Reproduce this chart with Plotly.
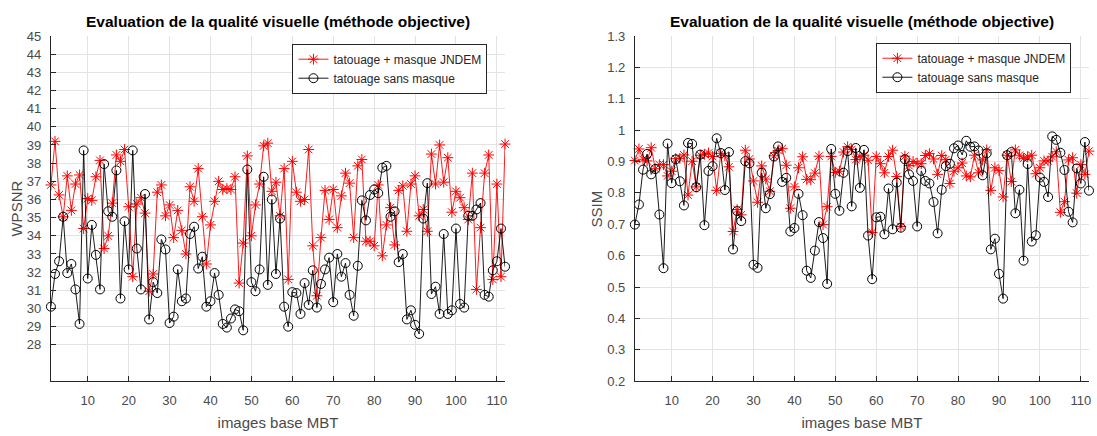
import plotly.graph_objects as go

images = list(range(1, 113))

wpsnr_jndem = [36.8, 39.2, 36.25, 35.05, 37.3, 35.4, 36.85, 37.35, 34.4, 36.05,
               35.95, 37.25, 38.15, 33.3, 34.0, 35.8, 38.45, 38.1, 38.75, 35.6,
               31.75, 35.75, 36.1, 35.25, 30.95, 31.9, 36.4, 36.8, 35.1, 35.7,
               33.9, 35.4, 34.3, 33.0, 36.7, 35.9, 37.7, 35.05, 32.45, 34.6,
               35.9, 37.0, 36.55, 36.6, 36.55, 37.25, 31.4, 33.6, 38.4, 34.0,
               35.7, 36.85, 38.95, 39.1, 36.45, 36.95, 35.1, 37.7, 31.6, 38.1,
               36.4, 35.9, 36.0, 38.75, 33.45, 30.7, 33.9, 36.5, 34.9, 36.55,
               34.45, 36.2, 37.45, 36.9, 33.9, 37.85, 38.2, 33.7, 33.7, 33.45,
               36.8, 32.9, 34.6, 35.55, 33.5, 36.5, 36.75, 34.25, 36.85, 37.3,
               35.1, 35.45, 34.25, 38.5, 36.85, 39.0, 36.95, 38.3, 35.3, 36.45,
               36.1, 35.55, 34.9, 37.45, 31.05, 34.45, 37.45, 38.45, 31.6, 36.85,
               31.75, 39.05]

wpsnr_sans = [30.1, 31.9, 32.6, 35.05, 31.95, 32.45, 31.05, 29.15, 38.7, 31.65,
              34.6, 32.95, 31.05, 37.95, 35.35, 35.05, 37.6, 30.55, 34.8, 32.15,
              38.7, 33.3, 31.05, 36.3, 29.4, 31.45, 30.85, 33.8, 33.25, 29.2,
              29.55, 32.15, 30.4, 30.55, 34.1, 34.5, 32.2, 32.85, 30.1, 30.4,
              31.95, 30.75, 29.15, 28.95, 29.45, 29.95, 29.85, 28.8, 37.65, 31.45,
              30.95, 32.15, 37.25, 31.3, 36.0, 31.9, 34.95, 30.1, 29.0, 30.9,
              30.85, 29.7, 31.4, 30.2, 32.1, 30.05, 31.35, 32.15, 32.8, 30.35,
              33.0, 31.75, 32.5, 30.75, 29.6, 32.35, 35.95, 34.85, 36.25, 36.55,
              36.35, 37.75, 37.85, 35.05, 35.35, 32.55, 33.0, 29.4, 29.9, 29.1,
              28.6, 34.95, 36.9, 30.8, 31.2, 29.7, 34.1, 29.7, 29.9, 34.4,
              30.25, 30.05, 35.1, 35.1, 35.45, 35.8, 30.75, 30.65, 32.1, 32.6,
              34.4, 32.3]

ssim_jndem = [0.903, 0.94, 0.907, 0.902, 0.944, 0.877, 0.89, 0.89, 0.854, 0.869,
              0.909, 0.91, 0.921, 0.793, 0.901, 0.819, 0.92, 0.923, 0.927, 0.916,
              0.808, 0.926, 0.919, 0.883, 0.677, 0.747, 0.73, 0.936, 0.908, 0.838,
              0.77, 0.886, 0.844, 0.805, 0.918, 0.935, 0.941, 0.888, 0.751, 0.819,
              0.88, 0.915, 0.843, 0.842, 0.863, 0.917, 0.699, 0.756, 0.916, 0.865,
              0.869, 0.93, 0.947, 0.938, 0.906, 0.916, 0.92, 0.904, 0.674, 0.916,
              0.893, 0.864, 0.916, 0.936, 0.852, 0.693, 0.917, 0.887, 0.9, 0.894,
              0.893, 0.919, 0.925, 0.908, 0.859, 0.919, 0.906, 0.83, 0.869, 0.88,
              0.895, 0.854, 0.851, 0.92, 0.864, 0.905, 0.937, 0.808, 0.88, 0.871,
              0.787, 0.92, 0.836, 0.937, 0.92, 0.91, 0.915, 0.92, 0.861, 0.88,
              0.902, 0.902, 0.915, 0.931, 0.738, 0.772, 0.905, 0.912, 0.799, 0.89,
              0.859, 0.933]

ssim_sans = [0.699, 0.763, 0.874, 0.924, 0.859, 0.876, 0.731, 0.56, 0.957, 0.831,
             0.907, 0.837, 0.76, 0.959, 0.956, 0.818, 0.922, 0.697, 0.87, 0.885,
             0.974, 0.927, 0.809, 0.93, 0.62, 0.742, 0.71, 0.901, 0.894, 0.571,
             0.561, 0.864, 0.751, 0.796, 0.916, 0.948, 0.835, 0.848, 0.677, 0.688,
             0.797, 0.729, 0.552, 0.529, 0.616, 0.707, 0.656, 0.51, 0.94, 0.797,
             0.743, 0.864, 0.933, 0.757, 0.943, 0.816, 0.937, 0.664, 0.525, 0.722,
             0.724, 0.668, 0.814, 0.684, 0.833, 0.689, 0.907, 0.859, 0.838, 0.693,
             0.87, 0.838, 0.83, 0.771, 0.671, 0.81, 0.885, 0.893, 0.942, 0.951,
             0.921, 0.966, 0.947, 0.948, 0.935, 0.856, 0.926, 0.62, 0.654, 0.542,
             0.463, 0.92, 0.93, 0.735, 0.81, 0.584, 0.892, 0.645, 0.665, 0.849,
             0.835, 0.787, 0.98, 0.969, 0.928, 0.873, 0.74, 0.706, 0.878, 0.83,
             0.962, 0.807]

series_names = ["tatouage + masque JNDEM", "tatouage sans masque"]
title_text = "Evaluation de la qualité visuelle (méthode objective)"
x_label = "images base MBT"
y_labels = ["WPSNR", "SSIM"]
x_ticks = [10, 20, 30, 40, 50, 60, 70, 80, 90, 100, 110]
wpsnr_ticks = list(range(28, 46))
ssim_ticks = [0.2, 0.3, 0.4, 0.5, 0.6, 0.7, 0.8, 0.9, 1.0, 1.1, 1.2, 1.3]
ssim_ticktext = ["0.2", "0.3", "0.4", "0.5", "0.6", "0.7", "0.8", "0.9", "1", "1.1", "1.2", "1.3"]

W, H = 1097, 436
FONT = "Liberation Sans, Arial, Helvetica, sans-serif"
GRID = "#e3e3e3"
AXC = "#262626"
TICKC = "#4a4a4a"

fig = go.Figure()

def add_pair(y_red, y_black, xa, ya, leg):
    fig.add_trace(go.Scatter(
        x=images, y=y_red, mode="lines+markers", name=series_names[0],
        line=dict(color="#ff0000", width=0.9),
        marker=dict(symbol="asterisk-open", size=9, line=dict(color="#ff0000", width=1)),
        xaxis=xa, yaxis=ya, legend=leg, cliponaxis=False))
    fig.add_trace(go.Scatter(
        x=images, y=y_black, mode="lines+markers", name=series_names[1],
        line=dict(color="#000000", width=0.9),
        marker=dict(symbol="circle-open", size=9, color="#000000", line=dict(color="#000000", width=1)),
        xaxis=xa, yaxis=ya, legend=leg, cliponaxis=False))

add_pair(wpsnr_jndem, wpsnr_sans, "x", "y", "legend")
add_pair(ssim_jndem, ssim_sans, "x2", "y2", "legend2")

y_dom = [1 - 387.5 / H, 1 - 30 / H]
xd1 = [51 / W, 506 / W]
xd2 = [636 / W, 1091 / W]

common_x = dict(
    range=[1, 112], tickvals=x_ticks, ticks="inside", ticklen=5, tickcolor=AXC,
    showgrid=True, gridcolor=GRID, gridwidth=1, zeroline=False,
    showline=True, linecolor=AXC, linewidth=1, mirror=False,
    tickfont=dict(family=FONT, size=13, color=TICKC),
    ticklabelstandoff=7,
    title=dict(text=x_label, font=dict(family=FONT, size=15, color=TICKC), standoff=10),
)
common_y = dict(
    ticks="inside", ticklen=5, tickcolor=AXC,
    showgrid=True, gridcolor=GRID, gridwidth=1, zeroline=False,
    showline=True, linecolor=AXC, linewidth=1, mirror=False,
    tickfont=dict(family=FONT, size=13, color=TICKC),
    ticklabelstandoff=6,
)

fig.update_layout(
    width=W, height=H, autosize=False,
    margin=dict(l=0, r=0, t=0, b=0),
    paper_bgcolor="white", plot_bgcolor="white",
    font=dict(family=FONT, size=12, color="#000000"),
    xaxis=dict(domain=xd1, anchor="y", **common_x),
    yaxis=dict(domain=y_dom, anchor="x", range=[26, 45], tickvals=wpsnr_ticks, **common_y),
    xaxis2=dict(domain=xd2, anchor="y2", **common_x),
    yaxis2=dict(domain=y_dom, anchor="x2", range=[0.2, 1.3], tickvals=ssim_ticks,
                ticktext=ssim_ticktext, **common_y),
    legend=dict(x=293 / W, y=1 - 38 / H, xanchor="left", yanchor="top",
                bgcolor="white", bordercolor="#262626", borderwidth=1,
                font=dict(family=FONT, size=12, color="#262626"), tracegroupgap=0,
                itemwidth=30),
    legend2=dict(x=878 / W, y=1 - 37 / H, xanchor="left", yanchor="top",
                 bgcolor="white", bordercolor="#262626", borderwidth=1,
                 font=dict(family=FONT, size=12, color="#262626"), tracegroupgap=0,
                 itemwidth=30),
    showlegend=True,
)

for xc in [(xd1[0] + xd1[1]) / 2, (xd2[0] + xd2[1]) / 2]:
    fig.add_annotation(x=xc, y=1 - 15 / H, xref="paper", yref="paper",
                       text="<b>" + title_text + "</b>", showarrow=False,
                       font=dict(family=FONT, size=15.5, color="#000000"),
                       xanchor="center", yanchor="middle")

for xpix, lab in zip([17, 598], y_labels):
    fig.add_annotation(x=xpix / W, y=(y_dom[0] + y_dom[1]) / 2, xref="paper", yref="paper",
                       text=lab, textangle=-90, showarrow=False,
                       font=dict(family=FONT, size=15, color=TICKC),
                       xanchor="center", yanchor="middle")

fig.write_html("out.html", config={"displayModeBar": False},
               post_script="document.body.style.margin='0';")
